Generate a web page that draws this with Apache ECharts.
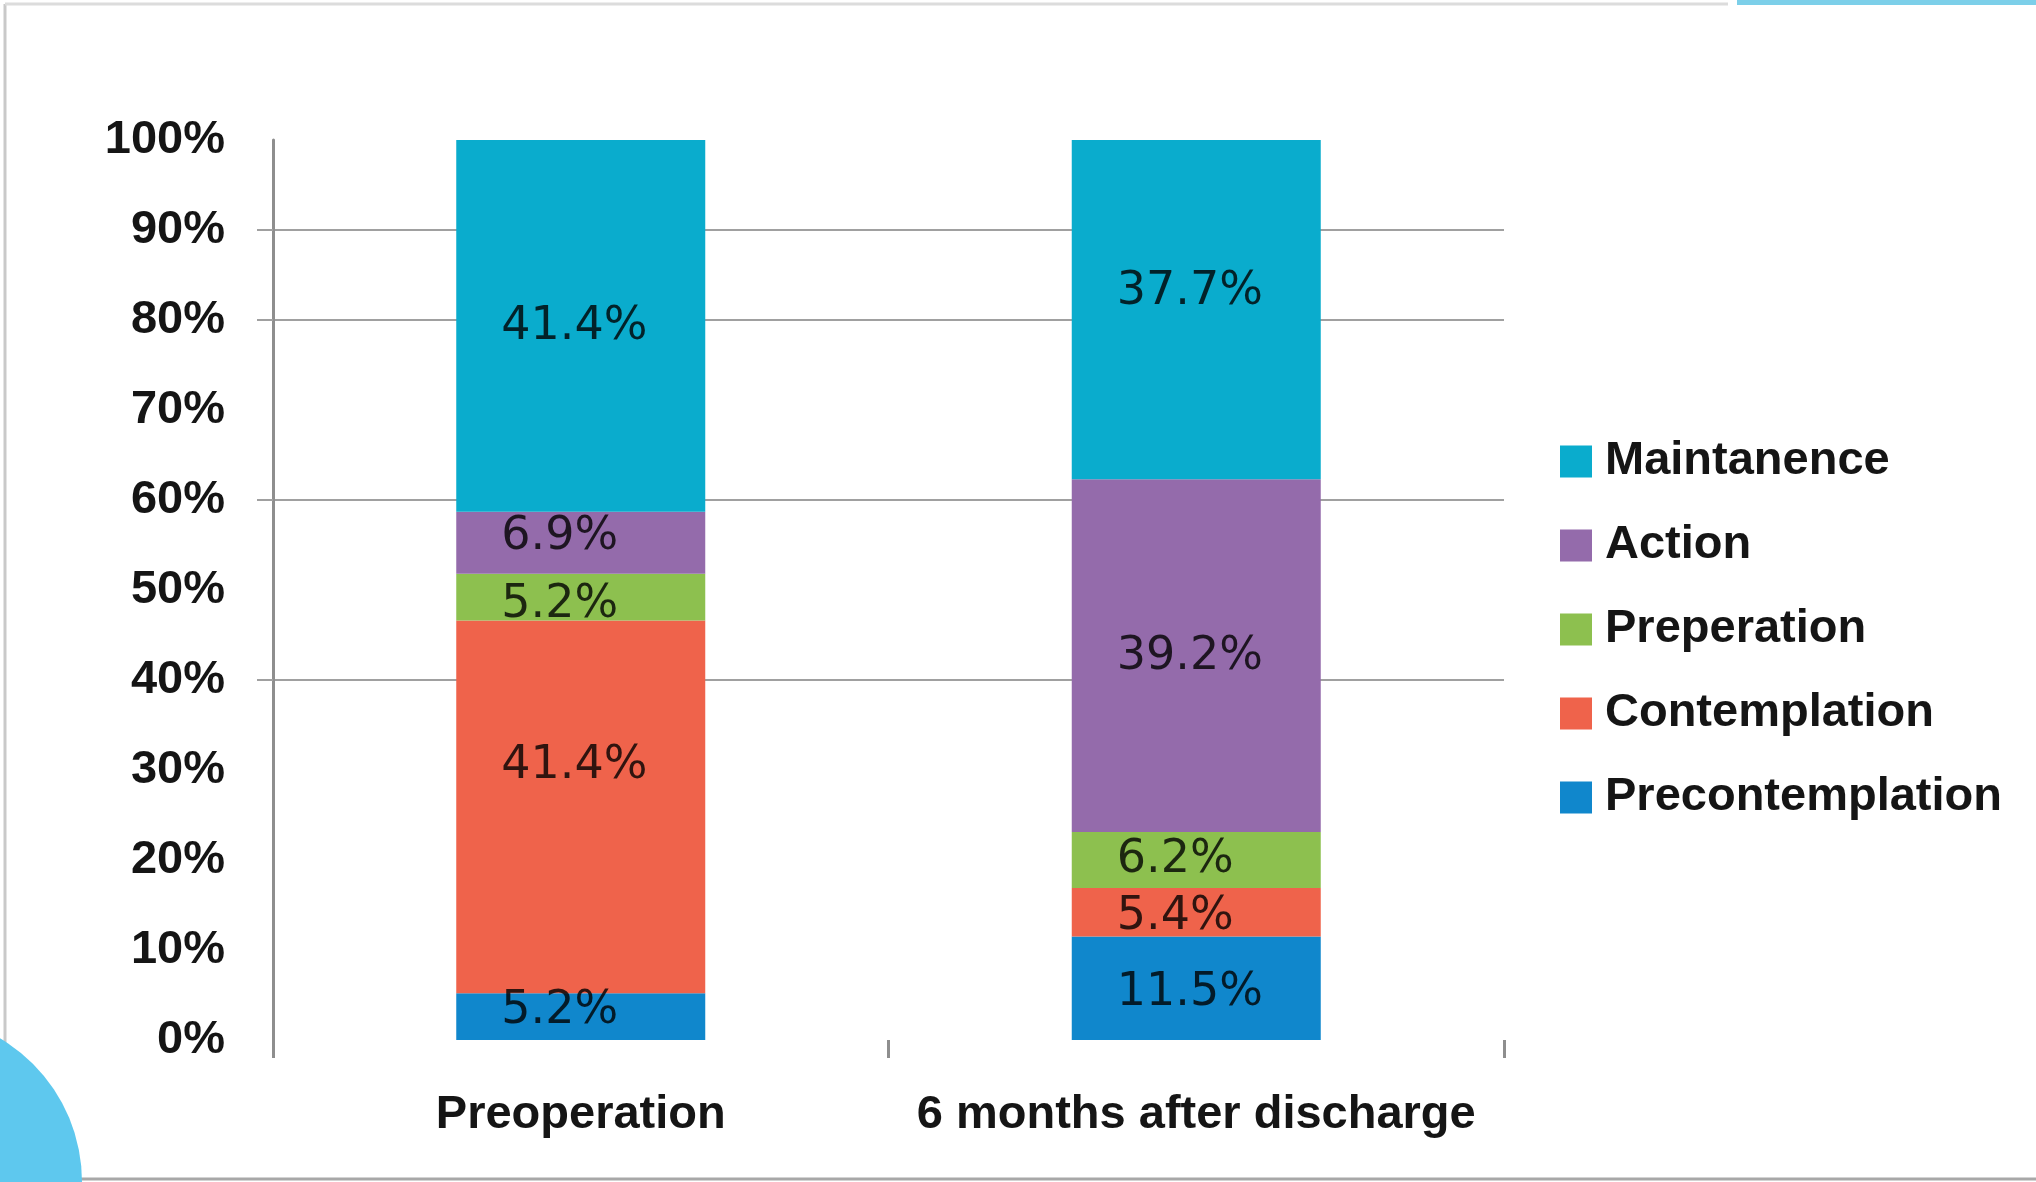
<!DOCTYPE html>
<html>
<head>
<meta charset="utf-8">
<title>Stages of change</title>
<script src="https://cdn.jsdelivr.net/npm/echarts@6/dist/echarts.min.js"></script>
<style>
  html, body { margin: 0; padding: 0; background: #ffffff; }
  #chart { width: 2036px; height: 1182px; }
</style>
</head>
<body>
<div id="chart"></div>
<script>
// Time points on the x axis
const categories = ['Preoperation', '6 months after discharge'];

// Share of patients in each stage (%), bottom of the stack first
const precontemplation = [5.2, 11.5];
const contemplation = [41.4, 5.4];
const preperation = [5.2, 6.2];
const action = [6.9, 39.2];
const maintanence = [41.4, 37.7];

// Value axis
const yTicks = { min: 0, max: 100, step: 10 };
const gridLineValues = [40, 60, 80, 90];

// Legend order (top to bottom)
const legendOrder = ['Maintanence', 'Action', 'Preperation', 'Contemplation', 'Precontemplation'];

// Styling per stage: fill colour and the vertical nudge of its labels
const stageStyle = {
  Precontemplation: { color: '#1087cc', dy: [-6, 5] },
  Contemplation:    { color: '#ef634b', dy: [-41, 5] },
  Preperation:      { color: '#8dc04f', dy: [8, 0] },
  Action:           { color: '#946bab', dy: [-6, 1] },
  Maintanence:      { color: '#0aaccd', dy: [1, -18] }
};

const stages = [
  ['Precontemplation', precontemplation],
  ['Contemplation', contemplation],
  ['Preperation', preperation],
  ['Action', action],
  ['Maintanence', maintanence]
];

const axisGray = '#8e8e8e';
const labelFont = 'Liberation Sans, Arial, sans-serif';

const series = stages.map(([name, values]) => ({
  name: name,
  type: 'bar',
  stack: 'total',
  barWidth: 249,
  itemStyle: { color: stageStyle[name].color },
  data: values.map((v, i) => ({
    value: v,
    label: { offset: [0, stageStyle[name].dy[i]] }
  })),
  label: {
    show: true,
    position: 'insideLeft',
    distance: 45,
    formatter: p => p.value + '%',
    fontFamily: 'DejaVu Sans, sans-serif',
    fontSize: 46,
    color: 'rgba(0,0,0,0.8)'
  },
  z: 3
}));

const chart = echarts.init(document.getElementById('chart'), null, { renderer: 'canvas' });

chart.setOption({
  animation: false,
  backgroundColor: '#ffffff',
  grid: { left: 273, right: 532, top: 140, bottom: 142, containLabel: false },
  legend: {
    data: legendOrder,
    orient: 'vertical',
    left: 1555,
    top: 433,
    icon: 'rect',
    itemWidth: 32,
    itemHeight: 32,
    itemGap: 37,
    selectedMode: false,
    textStyle: {
      fontFamily: labelFont,
      fontWeight: 'bold',
      fontSize: 47,
      color: '#151515',
      padding: [0, 0, 0, 8]
    }
  },
  xAxis: {
    type: 'category',
    data: categories,
    axisLine: { show: false },
    axisTick: { show: true, interval: 0, length: 18, lineStyle: { color: axisGray, width: 3 } },
    axisLabel: {
      interval: 0,
      hideOverlap: false,
      margin: 52,
      fontFamily: labelFont,
      fontWeight: 'bold',
      fontSize: 47,
      color: '#151515'
    },
    splitLine: { show: false }
  },
  yAxis: {
    type: 'value',
    min: yTicks.min,
    max: yTicks.max,
    interval: yTicks.step,
    axisLine: { show: true, lineStyle: { color: axisGray, width: 3 } },
    axisTick: {
      show: true,
      length: 16,
      customValues: gridLineValues,
      lineStyle: { color: '#a0a0a0', width: 2 }
    },
    axisLabel: {
      margin: 48,
      padding: [6, 0, 0, 0],
      formatter: '{value}%',
      fontFamily: labelFont,
      fontWeight: 'bold',
      fontSize: 47,
      color: '#151515'
    },
    splitLine: { show: true, lineStyle: { color: '#a0a0a0', width: 2 } }
  },
  series: series,
  graphic: [
    // slide frame
    { type: 'line', shape: { x1: 5, y1: 4, x2: 5, y2: 1182 }, style: { stroke: '#c9c9c9', lineWidth: 3 }, z: 0 },
    { type: 'line', shape: { x1: 5, y1: 4, x2: 1728, y2: 4 }, style: { stroke: '#dcdcdc', lineWidth: 3 }, z: 0 },
    { type: 'line', shape: { x1: 0, y1: 1179, x2: 2036, y2: 1179 }, style: { stroke: '#a8a8a8', lineWidth: 3 }, z: 0 },
    { type: 'rect', shape: { x: 1737, y: 0, width: 299, height: 5 }, style: { fill: '#7ccfe9' }, z: 1 },
    // corner badge
    { type: 'circle', shape: { cx: -85, cy: 1182, r: 167 }, style: { fill: '#5ec8ee' }, z: 5 }
  ]
});
</script>
</body>
</html>
